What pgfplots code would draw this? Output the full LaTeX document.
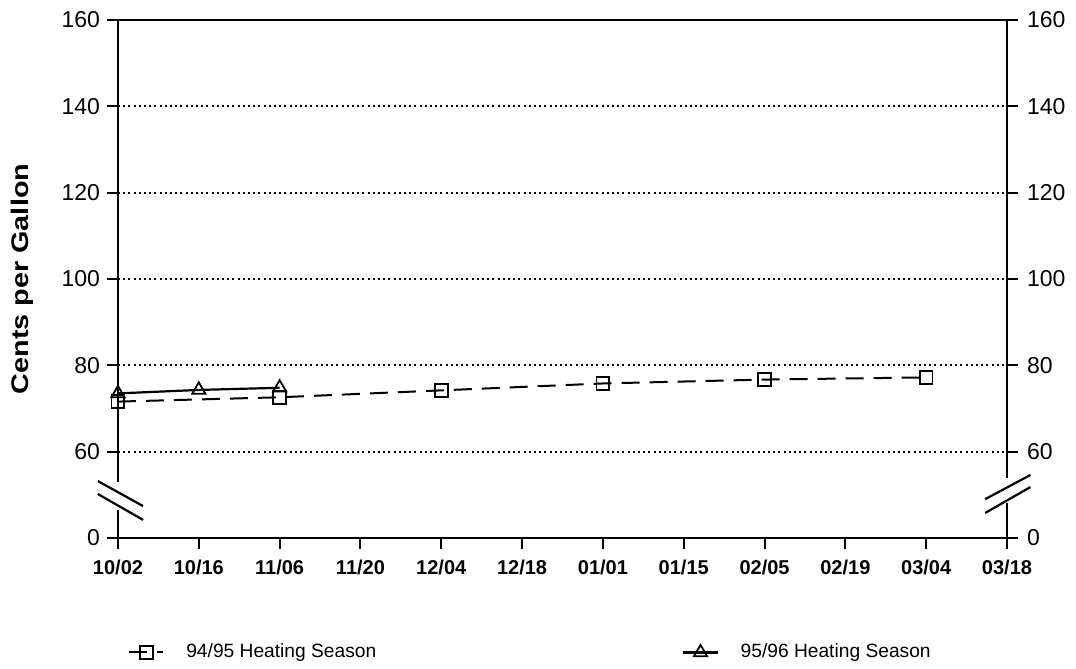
\documentclass[border=0pt]{standalone}
\usepackage{fontspec}
\setmainfont{Liberation Sans}
\usepackage{graphicx}
\usepackage{pgfplots}
\pgfplotsset{compat=1.18}
\begin{document}
\begin{tikzpicture}
\path[use as bounding box] (-59pt,-65.5pt) rectangle (479pt,269pt);
\begin{axis}[
  at={(0,0)}, anchor=south west,
  scale only axis, width=444.5pt, height=259pt,
  xmin=0, xmax=11, ymin=40, ymax=160,
  clip=false,
  axis line style={draw=none},
  separate axis lines,
  tick align=outside,
  major tick length=5.5pt,
  tick style={line width=1pt, black},
  xtick={0,...,11},
  xticklabels={10/02,10/16,11/06,11/20,12/04,12/18,01/01,01/15,02/05,02/19,03/04,03/18},
  xtick pos=left,
  x tick label style={font=\bfseries\fontsize{10}{11}\selectfont, yshift=-2pt},
  ytick={40,60,80,100,120,140,160},
  yticklabels={0,60,80,100,120,140,160},
  ytick pos=both,
  yticklabel pos=left,
  y tick label style={font=\fontsize{11.5}{13}\selectfont},
  ymajorgrids,
  grid style={line width=0.9pt, black, dash pattern=on 1pt off 1.6pt},
  ylabel={\scalebox{1.2}[1]{Cents per Gallon}},
  every axis y label/.style={at={(axis description cs:-0.108,0.5)}, rotate=90, anchor=center, font=\bfseries\fontsize{12}{14}\selectfont},
  legend columns=2,
  legend style={at={(axis description cs:0.011,-0.221)}, anchor=west, draw=none, fill=none, inner sep=0pt, font=\fontsize{9.6}{11}\selectfont},
  /tikz/every odd column/.append style={column sep=9pt},
  /tikz/every even column/.append style={column sep=151pt},
  legend cell align=left,
]
\addplot[black, line width=1pt, dash pattern=on 9pt off 5pt, mark=square, mark size=3.2pt, mark options={solid, line width=0.9pt}]
  coordinates {(0,71.6) (2,72.6) (4,74.2) (6,75.8) (8,76.7) (10,77.2)};
\addlegendentry{94/95 Heating Season}
\addplot[black, line width=1.1pt, mark=triangle, mark size=3.8pt, mark options={solid, line width=0.9pt}]
  coordinates {(0,73.5) (1,74.3) (2,74.8)};
\addlegendentry{95/96 Heating Season}
% frame with breaks
\draw[line width=1.2pt] (axis cs:0,160) -- (axis cs:11,160);
\draw[line width=1.2pt] (axis cs:0,40) -- (axis cs:11,40);
\draw[line width=1.2pt] (axis cs:0,160) -- (axis cs:0,53);
\draw[line width=1.2pt] (axis cs:0,46.5) -- (axis cs:0,40);
\draw[line width=1pt] (axis cs:11,160) -- (axis cs:11,53.9);
\draw[line width=1pt] (axis cs:11,48.1) -- (axis cs:11,40);
% break marks
\draw[line width=1.1pt] (axis cs:-0.25,53.2) -- (axis cs:0.31,47.4);
\draw[line width=1.1pt] (axis cs:-0.25,50.2) -- (axis cs:0.31,44.2);
\draw[line width=1.1pt] (axis cs:10.73,49) -- (axis cs:11.29,54.6);
\draw[line width=1.1pt] (axis cs:10.73,45.8) -- (axis cs:11.29,51.8);
\end{axis}
\begin{axis}[
  at={(0,0)}, anchor=south west,
  scale only axis, width=444.5pt, height=259pt,
  xmin=0, xmax=11, ymin=40, ymax=160,
  axis line style={draw=none},
  separate axis lines,
  tick align=outside,
  major tick length=5.5pt,
  tick style={line width=1pt, black},
  xtick=\empty,
  ytick={40,60,80,100,120,140,160},
  yticklabels={0,60,80,100,120,140,160},
  ytick pos=right,
  yticklabel pos=right,
  y tick label style={font=\fontsize{11.5}{13}\selectfont, xshift=1pt},
]
\end{axis}
\end{tikzpicture}
\end{document}
